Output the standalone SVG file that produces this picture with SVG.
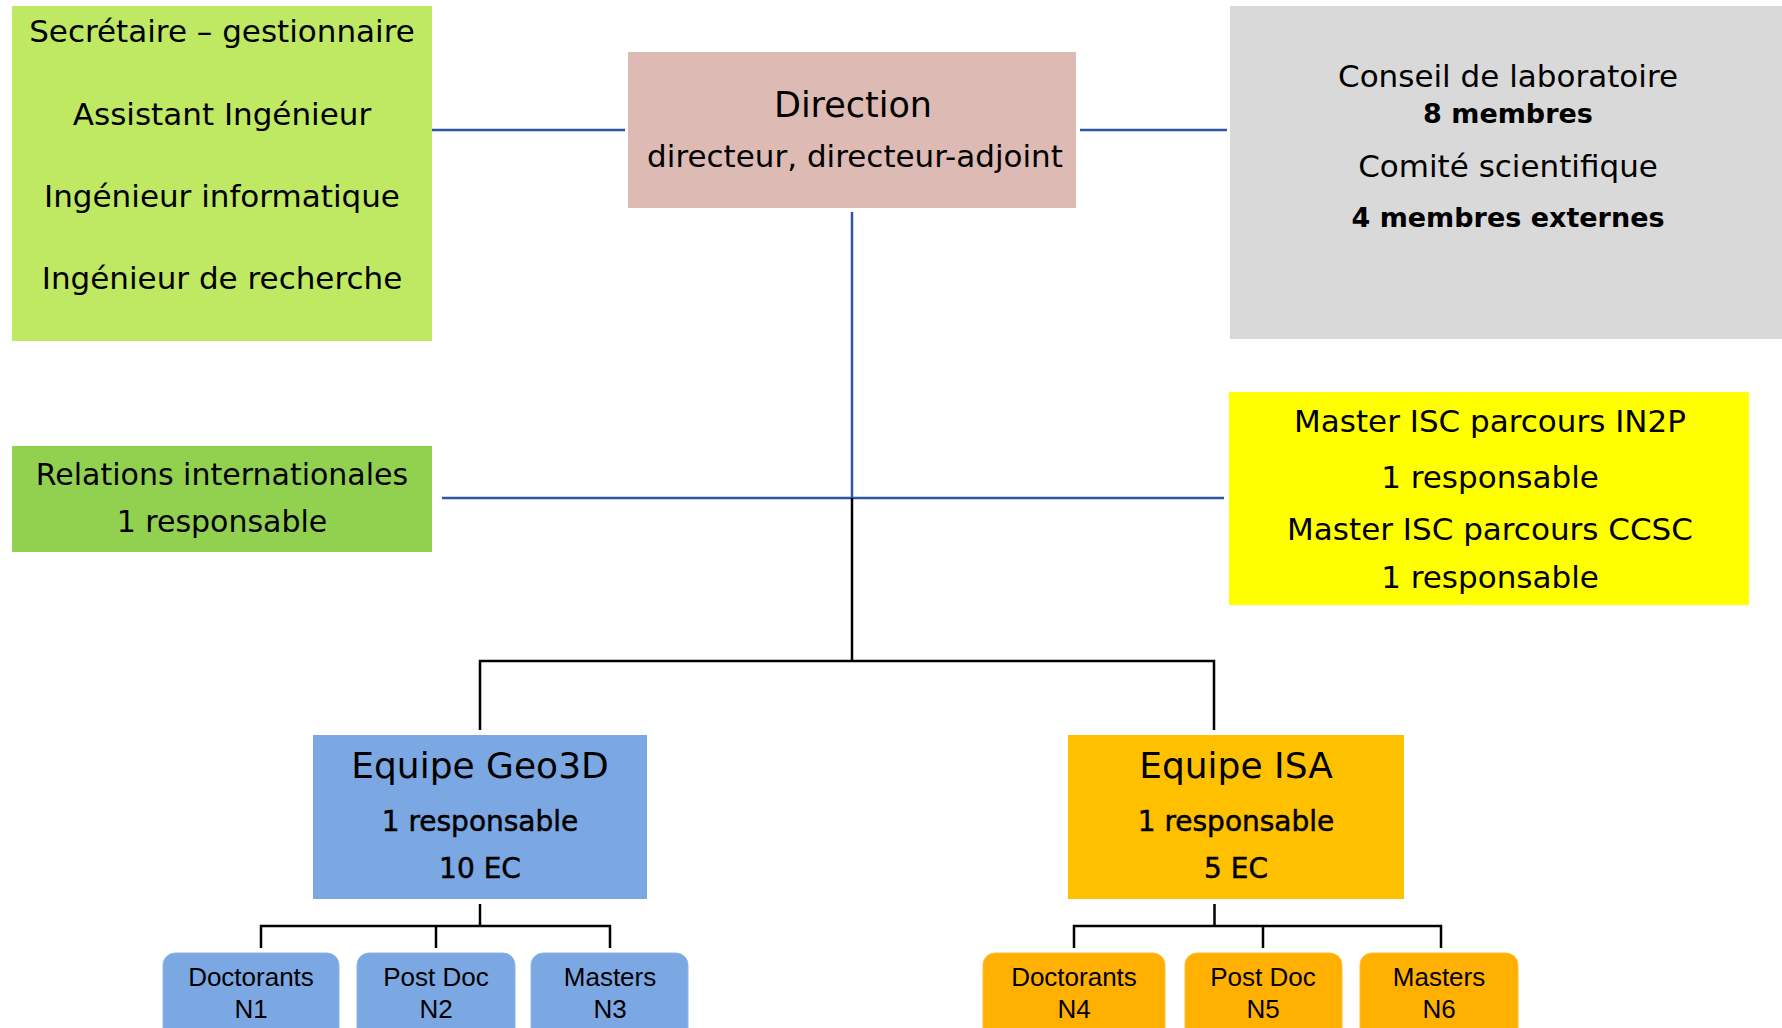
<svg xmlns="http://www.w3.org/2000/svg" width="1782" height="1028" viewBox="0 0 1782 1028">
<style>
text{font-family:"DejaVu Sans","Liberation Sans",sans-serif;fill:#000;text-anchor:middle}
.t30{font-size:30px}
.t31{font-size:31px}
.b27{font-size:27px;font-weight:bold}
.t36{font-size:36px}
.t28{font-size:28px;stroke:#000;stroke-width:0.5}
.s26{font-family:"Liberation Sans",Arial,sans-serif;font-size:26px}
.blue{stroke:#2F55A8;stroke-width:2.5;fill:none}
.blk{stroke:#000;stroke-width:2.5;fill:none}
.sb{fill:#7BA7E2;stroke:#8FB5E8;stroke-width:1}
.so{fill:#FFB000;stroke:#FFBE33;stroke-width:1}
</style>
<rect width="1782" height="1028" fill="#fff"/>
<g id="connectors">
<line class="blue" x1="430" y1="130" x2="625" y2="130"/>
<line class="blue" x1="1080" y1="130" x2="1227" y2="130"/>
<line class="blue" x1="852" y1="212" x2="852" y2="498"/>
<line class="blue" x1="442" y1="498" x2="1224" y2="498"/>
<polyline class="blk" points="852,498 852,661"/>
<polyline class="blk" points="480,730 480,661 1214,661 1214,730"/>
<line class="blk" x1="480" y1="904" x2="480" y2="926"/>
<polyline class="blk" points="261,948 261,926 610,926 610,948"/>
<line class="blk" x1="436" y1="926" x2="436" y2="948"/>
<line class="blk" x1="1214.5" y1="904" x2="1214.5" y2="926"/>
<polyline class="blk" points="1074,948 1074,926 1441,926 1441,948"/>
<line class="blk" x1="1263" y1="926" x2="1263" y2="948"/>
</g>
<g id="staff">
<rect x="12" y="6" width="420" height="335" fill="#BFE962"/>
<text class="t31" x="222" y="42">Secrétaire – gestionnaire</text>
<text class="t31" x="222" y="125">Assistant Ingénieur</text>
<text class="t31" x="222" y="207">Ingénieur informatique</text>
<text class="t31" x="222" y="289">Ingénieur de recherche</text>
</g>
<g id="direction">
<rect x="628" y="52" width="448" height="156" fill="#DDBAB3"/>
<text x="853" y="117" style="font-size:35px">Direction</text>
<text class="t31" x="855" y="167">directeur, directeur-adjoint</text>
</g>
<g id="conseil">
<rect x="1230" y="6" width="552" height="333" fill="#D9D9D9"/>
<text class="t31" x="1508" y="87">Conseil de laboratoire</text>
<text class="b27" x="1508" y="123">8 membres</text>
<text class="t31" x="1508" y="177">Comité scientifique</text>
<text class="b27" x="1508" y="227">4 membres externes</text>
</g>
<g id="relations">
<rect x="12" y="446" width="420" height="106" fill="#92D050"/>
<text class="t30" x="222" y="485">Relations internationales</text>
<text class="t30" x="222" y="532">1 responsable</text>
</g>
<g id="masters-isc">
<rect x="1229" y="392" width="520" height="213" fill="#FFFF00"/>
<text class="t31" x="1490" y="432">Master ISC parcours IN2P</text>
<text class="t31" x="1490" y="488">1 responsable</text>
<text class="t31" x="1490" y="540">Master ISC parcours CCSC</text>
<text class="t31" x="1490" y="588">1 responsable</text>
</g>
<g id="geo3d">
<rect x="313" y="735" width="334" height="164" fill="#7BA7E2"/>
<text class="t36" x="480" y="778">Equipe Geo3D</text>
<text class="t28" x="480" y="831">1 responsable</text>
<text class="t28" x="480" y="878">10 EC</text>
</g>
<g id="isa">
<rect x="1068" y="735" width="336" height="164" fill="#FFC000"/>
<text class="t36" x="1236" y="778">Equipe ISA</text>
<text class="t28" x="1236" y="831">1 responsable</text>
<text class="t28" x="1236" y="878">5 EC</text>
</g>
<g id="n1">
<rect class="sb" x="163" y="953" width="176" height="100" rx="12"/>
<text class="s26" x="251" y="986">Doctorants</text>
<text class="s26" x="251" y="1018">N1</text>
</g>
<g id="n2">
<rect class="sb" x="357" y="953" width="158" height="100" rx="12"/>
<text class="s26" x="436" y="986">Post Doc</text>
<text class="s26" x="436" y="1018">N2</text>
</g>
<g id="n3">
<rect class="sb" x="531" y="953" width="157" height="100" rx="12"/>
<text class="s26" x="610" y="986">Masters</text>
<text class="s26" x="610" y="1018">N3</text>
</g>
<g id="n4">
<rect class="so" x="983" y="953" width="182" height="100" rx="12"/>
<text class="s26" x="1074" y="986">Doctorants</text>
<text class="s26" x="1074" y="1018">N4</text>
</g>
<g id="n5">
<rect class="so" x="1185" y="953" width="157" height="100" rx="12"/>
<text class="s26" x="1263" y="986">Post Doc</text>
<text class="s26" x="1263" y="1018">N5</text>
</g>
<g id="n6">
<rect class="so" x="1360" y="953" width="158" height="100" rx="12"/>
<text class="s26" x="1439" y="986">Masters</text>
<text class="s26" x="1439" y="1018">N6</text>
</g>
</svg>
